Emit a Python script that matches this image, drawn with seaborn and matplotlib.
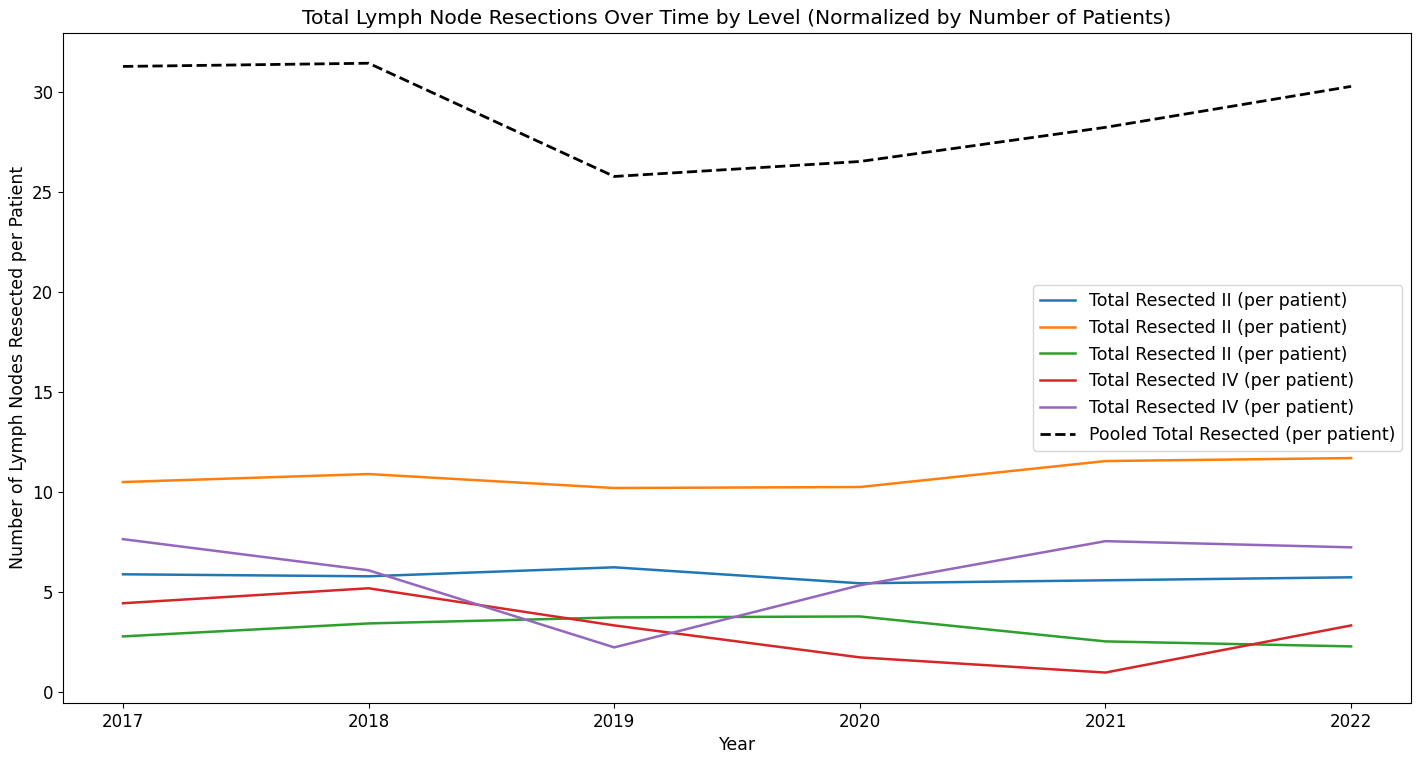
import numpy as np
import pandas as pd
import matplotlib
matplotlib.use('Agg')
import matplotlib.pyplot as plt
import seaborn as sns

years = [2017, 2018, 2019, 2020, 2021, 2022]
level_labels = ['Total Resected II (per patient)', 'Total Resected II (per patient)',
                'Total Resected II (per patient)', 'Total Resected IV (per patient)',
                'Total Resected IV (per patient)']
level_ii_a = [5.87, 5.77, 6.22, 5.42, 5.57, 5.72]
level_ii_b = [10.49, 10.89, 10.19, 10.24, 11.54, 11.69]
level_ii_c = [2.76, 3.41, 3.71, 3.76, 2.51, 2.26]
level_iv_a = [4.42, 5.17, 3.31, 1.71, 0.95, 3.31]
level_iv_b = [7.63, 6.07, 2.21, 5.32, 7.53, 7.22]
pooled = [31.30, 31.46, 25.79, 26.54, 28.25, 30.30]
pooled_label = 'Pooled Total Resected (per patient)'

series = [level_ii_a, level_ii_b, level_ii_c, level_iv_a, level_iv_b]
colors = ['#1f77b4', '#ff7f0e', '#2ca02c', '#d62728', '#9467bd']

fig, ax = plt.subplots(figsize=(14.17, 7.62), dpi=100)
for vals, lab, c in zip(series, level_labels, colors):
    df = pd.DataFrame({'Year': years, 'val': vals})
    sns.lineplot(data=df, x='Year', y='val', ax=ax, color=c, label=lab, lw=1.8)
dfp = pd.DataFrame({'Year': years, 'val': pooled})
sns.lineplot(data=dfp, x='Year', y='val', ax=ax, color='black', linestyle='--', lw=2.0, label=pooled_label)

ax.set_title('Total Lymph Node Resections Over Time by Level (Normalized by Number of Patients)', fontsize=14.6)
ax.set_xlabel('Year', fontsize=12.5)
ax.set_ylabel('Number of Lymph Nodes Resected per Patient', fontsize=12.5)
ax.set_xticks(years)
ax.set_xlim(2016.756, 2022.244)
ax.tick_params(labelsize=12)
ax.legend(loc='center right', fontsize=12.5)

plt.subplots_adjust(left=0.0445, right=0.9958, top=0.957, bottom=0.0774)
plt.savefig('out.png', dpi=100)
